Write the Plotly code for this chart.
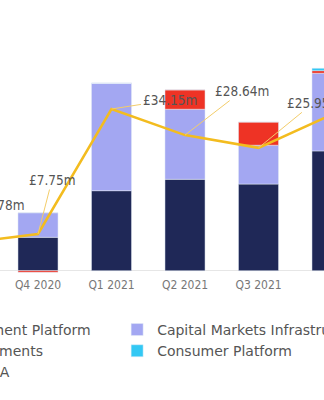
import plotly.graph_objects as go

quarters = ["Q3 2020", "Q4 2020", "Q1 2021", "Q2 2021", "Q3 2021", "Q4 2021"]
asset_mgmt = [None, 7.05, 16.9, 19.3, 18.3, 25.3]
cap_markets = [None, 5.2, 22.7, 14.8, 8.2, 16.4]
principal_inv = [None, -0.35, 0.0, 4.1, 4.9, 0.55]
consumer = [None, 0.0, 0.0, 0.0, 0.0, 0.5]
ebitda = [5.78, 7.75, 34.15, 28.64, 25.95, 33.0]
label_dx = [37, 14, 58, 57, 55, 55]   # label offset, px
label_dy = [-38, -54, -9, -44, -45, -45]

PX_PER_CAT = 73.5
FONT = "Liberation Sans Narrow, DejaVu Sans Condensed, Roboto, sans-serif"
LEG_FONT = "DejaVu Sans, sans-serif"
idx = list(range(len(quarters)))

fig = go.Figure()
fig.add_bar(x=idx, y=asset_mgmt, name="Asset Management Platform",
            marker_color="#1f2857", legend="legend", width=0.545)
fig.add_bar(x=idx, y=cap_markets, name="Capital Markets Infrastructure",
            marker_color="#a3a7f2", legend="legend2", width=0.545)
fig.add_bar(x=idx, y=principal_inv, name="Principal Investments",
            marker_color="#ee3325", legend="legend", width=0.545)
fig.add_bar(x=idx, y=consumer, name="Consumer Platform",
            marker_color="#33c8f4", legend="legend2", width=0.545)
fig.add_scatter(x=idx, y=ebitda, name="Adjusted EBITDA", mode="lines",
                line=dict(color="#f3bc1f", width=2.5), legend="legend")

for i, v in enumerate(ebitda):
    fig.add_annotation(x=i, y=v, text=f"£{v:.2f}m", showarrow=True,
                       arrowhead=0, arrowwidth=1, arrowcolor="#f3cd6a",
                       axref="x", ax=i + label_dx[i] / PX_PER_CAT,
                       ay=label_dy[i],
                       font=dict(family=FONT, size=13.5, color="#555555"))

fig.update_layout(
    width=324, height=400,
    barmode="relative",
    margin=dict(l=0, r=0, t=0, b=127, autoexpand=False),
    paper_bgcolor="white", plot_bgcolor="white",
    font=dict(family=FONT, color="#555555"),
    xaxis=dict(range=[0.483, 4.891], tickmode="array", tickvals=idx,
               ticktext=quarters, showgrid=False, zeroline=False,
               showline=False, ticklabelstandoff=3,
               tickfont=dict(size=12, color="#777777")),
    yaxis=dict(range=[-0.486, 57.17], visible=True, showgrid=False,
               showticklabels=False, zeroline=True, zerolinecolor="#e6e6e6",
               zerolinewidth=1),
    legend=dict(orientation="v", x=-0.456, xanchor="left", y=-0.150,
                yanchor="top",
                font=dict(family=LEG_FONT, size=14, color="#555555"),
                tracegroupgap=0, bgcolor="rgba(0,0,0,0)"),
    legend2=dict(orientation="v", x=0.3615, xanchor="left", y=-0.150,
                 yanchor="top",
                 font=dict(family=LEG_FONT, size=14, color="#555555"),
                 tracegroupgap=0, bgcolor="rgba(0,0,0,0)"),
)

fig.write_html("out.html")
